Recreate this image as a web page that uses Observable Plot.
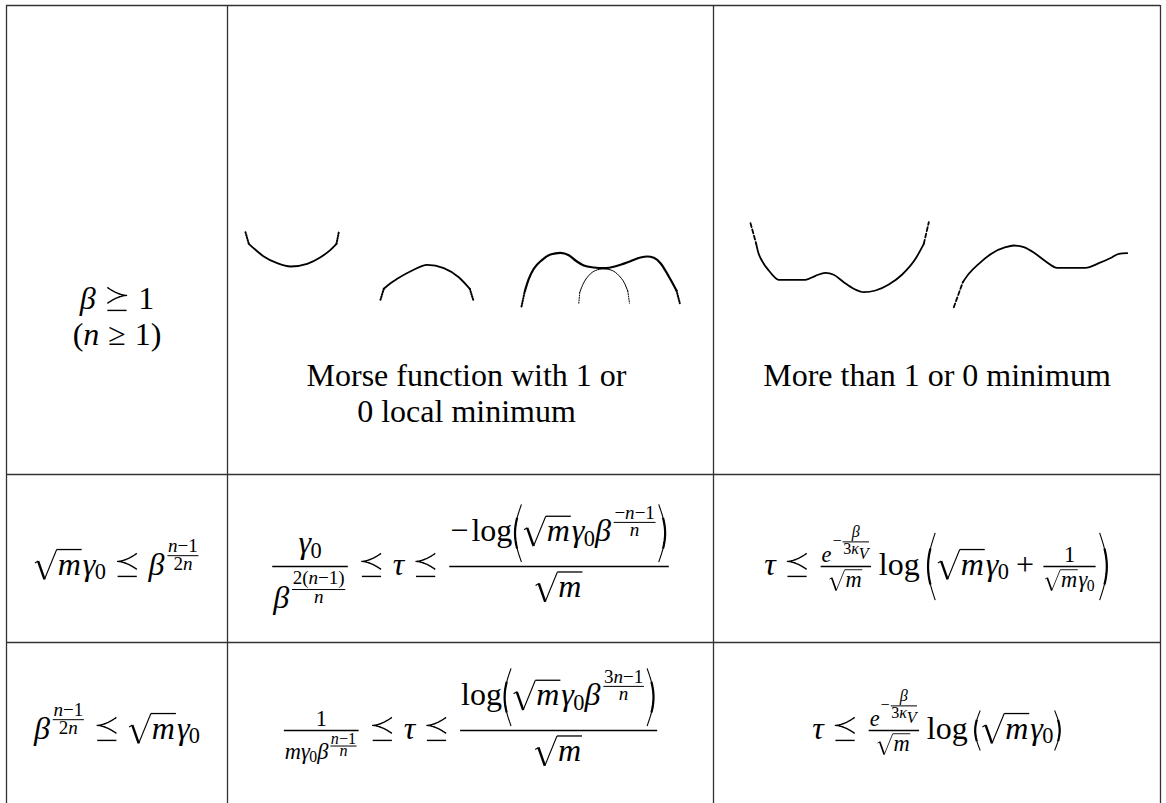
<!DOCTYPE html>
<html>
<head>
<meta charset="utf-8">
<script src="https://cdn.jsdelivr.net/npm/d3@7"></script>
<script src="https://cdn.jsdelivr.net/npm/@observablehq/plot@0.6"></script>
<style>
html, body { margin: 0; padding: 0; background: #ffffff; }
</style>
</head>
<body>
<div id="chart"></div>
<script>
// ---------- formula node helpers ----------
const mI = s => ({t: "txt", s, it: true});
const mR = s => ({t: "txt", s, it: false});
const mRow = (...c) => ({t: "row", c});
const mFrac = (n, d, f = 1) => ({t: "frac", n, d, f});
const mSup = (b, e, f = 0.7) => ({t: "sup", b, e, f});
const mSub = (b, e, f = 0.7) => ({t: "sub", b, e, f});
const mSqrt = c => ({t: "sqrt", c});
const mBig = (c, k) => ({t: "big", c, k});
const mRel = s => ({t: "rel", s});
const mBin = s => ({t: "bin", s});
const mSp = em => ({t: "sp", em});
const gamma0 = () => mSub(mI("γ"), mR("0"));
const rootM = () => mSqrt(mI("m"));

// ---------- data ----------
const columnEdges = [6, 227, 713, 1160];
const rowEdges = [5, 474, 642];

const regimeLabel = [
  mRow(mI("β"), mRel("succ"), mR("1")),
  mRow(mR("("), mI("n"), mRel("≥"), mR("1"), mR(")"))
];
const captionMorse = ["Morse function with 1 or", "0 local minimum"];
const captionMultiple = ["More than 1 or 0 minimum"];

const condSmallGamma = mRow(rootM(), gamma0(), mRel("prec"),
  mSup(mI("β"), mFrac(mRow(mI("n"), mR("−"), mR("1")), mRow(mR("2"), mI("n")), 0.85)));
const condLargeGamma = mRow(
  mSup(mI("β"), mFrac(mRow(mI("n"), mR("−"), mR("1")), mRow(mR("2"), mI("n")), 0.85)),
  mRel("prec"), rootM(), gamma0());

const morseSmallGamma = mRow(
  mFrac(gamma0(), mSup(mI("β"), mFrac(mRow(mR("2("), mI("n"), mR("−"), mR("1)")), mI("n"), 0.85))),
  mRel("prec"), mI("τ"), mRel("prec"),
  mFrac(mRow(mR("−"), mSp(0.1), mR("log"),
    mBig(mRow(rootM(), gamma0(), mSup(mI("β"), mFrac(mRow(mR("−"), mI("n"), mR("−"), mR("1")), mI("n"), 0.85))), 1.8)),
    rootM())
);
const multiSmallGamma = mRow(
  mI("τ"), mRel("prec"),
  mFrac(mSup(mI("e"), mRow(mR("−"), mFrac(mI("β"), mRow(mR("3"), mSub(mI("κ"), mI("V"), 1)), 1)), 0.72), rootM(), 0.7),
  mSp(0.17), mR("log"), mSp(0.17),
  mBig(mRow(rootM(), gamma0(), mBin("+"), mFrac(mR("1"), mRow(rootM(), gamma0()), 0.7)), 2.1)
);
const morseLargeGamma = mRow(
  mFrac(mR("1"), mRow(mI("m"), gamma0(), mSup(mI("β"), mFrac(mRow(mI("n"), mR("−"), mR("1")), mI("n"), 1), 0.72)), 0.7),
  mRel("prec"), mI("τ"), mRel("prec"),
  mFrac(mRow(mR("log"),
    mBig(mRow(rootM(), gamma0(), mSup(mI("β"), mFrac(mRow(mR("3"), mI("n"), mR("−"), mR("1")), mI("n"), 0.85))), 1.8)),
    rootM())
);
const multiLargeGamma = mRow(
  mI("τ"), mRel("prec"),
  mFrac(mSup(mI("e"), mRow(mR("−"), mFrac(mI("β"), mRow(mR("3"), mSub(mI("κ"), mI("V"), 1)), 1)), 0.72), rootM(), 0.7),
  mSp(0.17), mR("log"), mSp(0.17),
  mBig(mRow(rootM(), gamma0()), 1.25)
);

// potential sketches
const bowlCurve = [[248.3,243.3],[255,249.3],[263.3,256],[276.7,262.7],[290,266],[306.7,263.3],[320,256.7],[330,249.3],[336,243.3]];
const bowlEnds = [[[245,231.7],[248.3,243.3]], [[336,243.3],[338.3,231.7]]];
const capCurve = [[383.3,288.3],[390,282.7],[396.7,278.3],[411.7,270],[426.7,264.3],[443.3,267.7],[458.3,276.7],[469.3,288.3]];
const capEnds = [[[380,299.3],[383.3,288.3]], [[469.3,288.3],[472.7,299.3]]];
const humpCurve = [[524.3,290.7],[528.3,278.3],[533.3,268.3],[541.7,259.3],[550,254],[560,252.3],[568.3,254.7],[575,260],[583.3,265],[593.3,267],[603.3,267.7],[616.7,265.3],[630,260.7],[640,257],[646.7,256],[653.3,257.3],[660,262.7],[668.3,276],[676,290]];
const humpEnds = [[[521,306],[524.3,290.7]], [[676,290],[679.3,302.7]]];
const innerCapCurve = [[579.3,291.7],[582.7,283.3],[588.3,275],[595,270],[603.3,268.3],[611.7,270],[618.3,275],[624,282.7],[627.3,290.7]];
const innerCapEnds = [[[578.3,302.7],[579.3,291.7]], [[627.3,290.7],[629,302.7]]];
const plateauBowlCurve = [[755.7,243.3],[757.7,251.7],[761.7,260.7],[768.3,270],[778.3,279.3],[805,279.3],[815,275.3],[825,272.3],[833.3,274.3],[843.3,281.7],[853.3,288.3],[863.3,291.7],[875,290],[888.3,284],[901.7,274],[915,258.3],[923.3,243.3]];
const plateauBowlEnds = [[[750,222.7],[755.7,243.3]], [[923.3,243.3],[928.3,221.7]]];
const risingCurve = [[962.3,281.7],[968.3,273.3],[978.3,263.3],[991.7,252.7],[1005,246.7],[1013.3,245],[1023.3,246.7],[1035,253.3],[1045,260.7],[1056.7,267.3],[1085,267.3],[1098.3,262.7],[1111.7,256.7],[1118.3,253.3],[1126.7,252.7]];
const risingEnds = [[[953.3,306.7],[962.3,281.7]]];

// ---------- tiny math typesetter ----------
const WIDTH = 1166, HEIGHT = 803;
const FAMILY = "Liberation Serif";
const BASE = 32;
const SVGNS = "http://www.w3.org/2000/svg";
const measSvg = document.createElementNS(SVGNS, "svg");
measSvg.setAttribute("width", "10"); measSvg.setAttribute("height", "10");
measSvg.setAttribute("style", "position:absolute;left:-2000px;top:0;visibility:hidden");
const measText = document.createElementNS(SVGNS, "text");
measText.setAttribute("font-family", FAMILY);
measSvg.appendChild(measText);
document.body.appendChild(measSvg);
const widthCache = new Map();
function textWidth(s, size, it) {
  const key = `${s}|${size}|${it}`;
  if (widthCache.has(key)) return widthCache.get(key);
  measText.setAttribute("font-size", size);
  measText.setAttribute("font-style", it ? "italic" : "normal");
  measText.textContent = s;
  const w = measText.getComputedTextLength();
  widthCache.set(key, w);
  return w;
}
function textMetrics(s) {
  let h = 0.45, d = 0;
  for (const ch of s) {
    if (/[0-9A-Zbdfhkltiβ()]/.test(ch)) h = Math.max(h, 0.68);
    if (/[gjpqyβγ()]/.test(ch)) d = Math.max(d, 0.21);
  }
  return {h, d};
}
function place(out, items, dx, dy) {
  for (const it of items) {
    if (it.k === "t") out.push({...it, x: it.x + dx, y: it.y + dy});
    else out.push({...it, pts: it.pts.map(([x, y]) => [x + dx, y + dy])});
  }
}
function relGlyph(kind, s) {
  const N = 14, up = [], lo = [];
  for (let i = 0; i <= N; i++) {
    const u = i / N, x = 0.09 + 0.6 * u, dy = 0.25 * Math.pow(u, 1.7);
    up.push([x, -0.41 - dy]); lo.push([x, -0.41 + dy]);
  }
  const arm = up.slice().reverse().concat(lo.slice(1));
  const bar = [[0.09, 0.06], [0.69, 0.06]];
  const mir = kind === "succ" ? (p => [0.78 - p[0], p[1]]) : (p => p);
  const sc = pts => pts.map(mir).map(([x, y]) => [x * s, y * s]);
  return [{k: "p", pts: sc(arm), w: 0.045 * s}, {k: "p", pts: sc(bar), w: 0.045 * s}];
}
function parenPath(x0, top, bot, pw, left, size) {
  const N = 30, pts = [];
  for (let i = 0; i <= N; i++) {
    const t = i / N, s = Math.sin(Math.PI * t);
    const x = left ? x0 + pw * (0.85 - 0.6 * s) : x0 + pw * (0.15 + 0.6 * s);
    pts.push([x, top + (bot - top) * t]);
  }
  return [{k: "p", pts, w: 0.035 * size}, {k: "p", pts: pts.slice(7, 24), w: 0.07 * size}];
}
function lay(n, size) {
  const script = size < 0.9 * BASE;
  if (n.t === "txt") {
    const m = textMetrics(n.s);
    return {w: textWidth(n.s, size, n.it), h: m.h * size, d: m.d * size,
            items: [{k: "t", x: 0, y: 0, s: n.s, size, it: n.it}]};
  }
  if (n.t === "sp") return {w: n.em * size, h: 0, d: 0, items: []};
  if (n.t === "row") {
    let x = 0, h = 0, d = 0; const items = [];
    for (const c of n.c) {
      const b = lay(c, size);
      place(items, b.items, x, 0);
      x += b.w; h = Math.max(h, b.h); d = Math.max(d, b.d);
    }
    return {w: x, h, d, items};
  }
  if (n.t === "rel" || n.t === "bin") {
    const gap = script ? 0.03 * size : (n.t === "rel" ? 0.278 : 0.222) * size;
    const g = (n.s === "prec" || n.s === "succ")
      ? {w: 0.78 * size, h: 0.66 * size, d: 0.08 * size, items: relGlyph(n.s, size)}
      : lay(mR(n.s), size);
    const items = []; place(items, g.items, gap, 0);
    return {w: g.w + 2 * gap, h: g.h, d: g.d, items};
  }
  if (n.t === "frac") {
    const fs = size * n.f, disp = n.f >= 0.95 && size >= 0.95 * BASE;
    const N = lay(n.n, fs), D = lay(n.d, fs);
    const th = Math.max(1, 0.04 * size), axis = 0.25 * size;
    const gap = disp ? 0.12 * size : 0.05 * size;
    const yN = Math.min(-axis - th / 2 - gap - N.d, -(disp ? 0.677 : 0.394) * size);
    const yD = Math.max(-axis + th / 2 + gap + D.h, (disp ? 0.686 : 0.345) * size);
    const inner = Math.max(N.w, D.w), pad = 0.1 * size, over = 0.03 * size;
    const items = [];
    place(items, N.items, pad + (inner - N.w) / 2, yN);
    place(items, D.items, pad + (inner - D.w) / 2, yD);
    items.push({k: "p", pts: [[pad - over, -axis], [pad + inner + over, -axis]], w: th});
    return {w: inner + 2 * pad, h: -yN + N.h, d: yD + D.d, items};
  }
  if (n.t === "sup") {
    const B = lay(n.b, size), es = size * n.f, E = lay(n.e, es);
    const u = Math.max((size >= 0.95 * BASE ? 0.413 : 0.363) * size, E.d + 0.108 * size, B.h - 0.386 * es);
    const kx = B.w + 0.04 * size;
    const items = []; place(items, B.items, 0, 0); place(items, E.items, kx, -u);
    return {w: kx + E.w, h: Math.max(B.h, u + E.h), d: Math.max(B.d, E.d - u), items};
  }
  if (n.t === "sub") {
    const B = lay(n.b, size), es = size * n.f, E = lay(n.e, es);
    const v = Math.max(0.15 * size, E.h - 0.35 * size);
    const kx = B.w - 0.02 * size;
    const items = []; place(items, B.items, 0, 0); place(items, E.items, kx, v);
    return {w: kx + E.w, h: Math.max(B.h, E.h - v), d: Math.max(B.d, E.d + v), items};
  }
  if (n.t === "sqrt") {
    const C = lay(n.c, size);
    const top = -(Math.max(C.h, 0.45 * size) + 0.33 * size), bot = Math.max(C.d, 0) + 0.15 * size;
    const s = size, cx = 0.74 * s;
    const items = [
      {k: "p", pts: [[0.03 * s, -0.36 * s], [0.13 * s, -0.42 * s]], w: 0.035 * s},
      {k: "p", pts: [[0.13 * s, -0.42 * s], [0.33 * s, bot]], w: 0.075 * s},
      {k: "p", pts: [[0.33 * s, bot], [0.71 * s, top]], w: 0.035 * s},
      {k: "p", pts: [[0.71 * s, top], [cx + C.w + 0.03 * s, top]], w: 0.04 * s}
    ];
    place(items, C.items, cx, 0);
    return {w: cx + C.w + 0.06 * s, h: -top + 1, d: bot, items};
  }
  if (n.t === "big") {
    const C = lay(n.c, size), Hh = n.k * size, axis = 0.25 * size;
    const top = -axis - Hh / 2, bot = -axis + Hh / 2;
    const pw = 0.13 * Hh + 0.1 * size;
    const items = [];
    items.push(...parenPath(0, top, bot, pw, true, size));
    place(items, C.items, pw, 0);
    items.push(...parenPath(pw + C.w, top, bot, pw, false, size));
    return {w: 2 * pw + C.w, h: Math.max(C.h, -top), d: Math.max(C.d, bot), items};
  }
  throw new Error("unknown node " + n.t);
}

// ---------- placement of formulas in the table ----------
const placements = [
  {f: regimeLabel[0], col: 0, base: 308},
  {f: regimeLabel[1], col: 0, base: 344},
  {f: condSmallGamma, col: 0, base: 574},
  {f: morseSmallGamma, col: 1, base: 574},
  {f: multiSmallGamma, col: 2, base: 574},
  {f: condLargeGamma, col: 0, base: 738},
  {f: morseLargeGamma, col: 1, base: 738},
  {f: multiLargeGamma, col: 2, base: 738}
];
const colCenter = c => (columnEdges[c] + columnEdges[c + 1]) / 2;

const textItems = [], pathRows = [];
let pid = 0;
for (const p of placements) {
  const box = lay(p.f, BASE);
  const x0 = colCenter(p.col) - box.w / 2;
  for (const it of box.items) {
    if (it.k === "t") textItems.push({x: it.x + x0, y: it.y + p.base - 0.32 * it.size, s: it.s, size: Math.round(it.size * 100) / 100, it: it.it});
    else {
      const id = pid++;
      const w = Math.round(it.w * 10) / 10;
      for (const [x, y] of it.pts) pathRows.push({id, x: x + x0, y: y + p.base, w});
    }
  }
}
measSvg.remove();
const captionRows = [
  ...captionMorse.map((s, i) => ({x: colCenter(1) - 4, y: 385 + 36 * i - 0.32 * BASE, s})),
  ...captionMultiple.map((s, i) => ({x: colCenter(2), y: 385 + 36 * i - 0.32 * BASE, s}))
];

// sketch series
const toRows = (segs, name) => segs.flatMap((seg, k) => seg.map(([x, y]) => ({id: name + k, x, y})));
const solidThick = toRows([bowlCurve, capCurve, plateauBowlCurve, risingCurve], "s");
const solidHump = toRows([humpCurve], "h");
const solidThin = toRows([innerCapCurve], "i");
const hatchEnds = toRows([...bowlEnds, ...capEnds, ...humpEnds], "e");
const thinEnds = toRows(innerCapEnds, "t");
const dashEnds = toRows([...plateauBowlEnds, ...risingEnds], "d");

const widths = [...new Set(pathRows.map(d => d.w))];
const sizes = [...new Set(textItems.map(d => d.size))];

const chart = Plot.plot({
  width: WIDTH, height: HEIGHT, margin: 0,
  x: {domain: [0, WIDTH], range: [0, WIDTH], axis: null},
  y: {domain: [0, HEIGHT], range: [0, HEIGHT], axis: null},
  marks: [
    Plot.ruleX(columnEdges, {y1: rowEdges[0], y2: HEIGHT, stroke: "#333333", strokeWidth: 1.3}),
    Plot.ruleY(rowEdges, {x1: columnEdges[0], x2: columnEdges[columnEdges.length - 1], stroke: "#333333", strokeWidth: 1.3}),
    Plot.line(solidThick, {x: "x", y: "y", z: "id", curve: "monotone-x", stroke: "black", strokeWidth: 1.8}),
    Plot.line(solidHump, {x: "x", y: "y", z: "id", curve: "monotone-x", stroke: "black", strokeWidth: 2.2}),
    Plot.line(solidThin, {x: "x", y: "y", z: "id", curve: "monotone-x", stroke: "black", strokeWidth: 1.0}),
    Plot.line(hatchEnds, {x: "x", y: "y", z: "id", stroke: "black", strokeWidth: 2, strokeDasharray: "1,1.6"}),
    Plot.line(thinEnds, {x: "x", y: "y", z: "id", stroke: "black", strokeWidth: 1, strokeDasharray: "1,1.4"}),
    Plot.line(dashEnds, {x: "x", y: "y", z: "id", stroke: "black", strokeWidth: 1.8, strokeDasharray: "4,2.5"}),
    ...widths.map(w => Plot.line(pathRows.filter(d => d.w === w),
      {x: "x", y: "y", z: "id", stroke: "black", strokeWidth: w, strokeLinecap: "butt", strokeLinejoin: "round"})),
    ...sizes.flatMap(sz => [true, false].map(it => Plot.text(textItems.filter(d => d.size === sz && d.it === it),
      {x: "x", y: "y", text: "s", fontSize: sz, textAnchor: "start",
       fontFamily: FAMILY, fontStyle: it ? "italic" : "normal"}))),
    Plot.text(captionRows, {x: "x", y: "y", text: "s", fontSize: BASE,
      textAnchor: "middle", fontFamily: FAMILY})
  ]
});
// make the serif family explicit on the root and on every text element
chart.setAttribute("font-family", FAMILY);
chart.querySelectorAll("g[font-family]").forEach(g => g.setAttribute("font-family", FAMILY));
chart.querySelectorAll("text").forEach(t => {
  t.setAttribute("font-family", FAMILY);
  t.style.fontFamily = `'${FAMILY}'`;
});
document.getElementById("chart").appendChild(chart);
</script>
</body>
</html>
